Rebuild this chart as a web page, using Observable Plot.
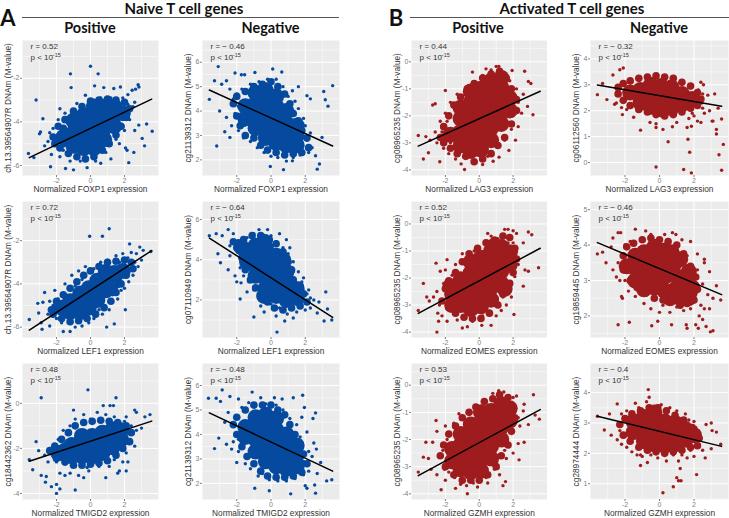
<!DOCTYPE html>
<html><head><meta charset="utf-8">
<script src="https://cdn.jsdelivr.net/npm/d3@7"></script>
<script src="https://cdn.jsdelivr.net/npm/@observablehq/plot@0.6"></script>
<style>
html,body{margin:0;padding:0;background:#fff}
#c{position:relative;width:729px;height:518px;overflow:hidden}
#c svg{position:absolute;overflow:visible;background:transparent}
.h{position:absolute;font-family:Lato,sans-serif;font-weight:700;color:#111;white-space:nowrap;transform:translate(-50%,-50%);line-height:1.2}
.r{position:absolute;height:1.5px;background:#555}
</style></head><body><div id="c"></div>
<script>
// Values are estimates. Individual points are the readable outliers and
// cloud edges; each "core" and "ring" list is a coarse hand-read stand-in for the solid, overlapping centre.
const xMajor=[-2,0,2], xMinor=[-3,-1,1,3];
const lineXs=[-3.6,3.6];

const foxp1PosCore=[-1.6,-4.7,-1,-5.1,-1,-4.5,-1,-3.95,-.4,-5.2,-.4,-4.7,-.4,-4.2,-.4,-3.7,.2,-5.2,.2,-4.7,.2,-4.2,.2,-3.7,.2,-3.3,.8,-4.8,.8,-4.3,.8,-3.8,.8,-3.3,1.4,-4.2,1.4,-3.7,1.4,-3.3,1.9,-3.6];
const foxp1PosRing=[-2.2,-4.7,-1.9,-4.2,-1.5,-3.9,-1,-3.5,-.5,-3.3,0,-3.05,.5,-3,1,-2.95,1.5,-3,2,-3.1,2.3,-3.4,2.1,-3.8,1.8,-4.2,1.5,-4.6,1.1,-5,.7,-5.3,.2,-5.6,-.3,-5.7,-.8,-5.6,-1.3,-5.45,-1.8,-5.2,-2.1,-5,-1.6,-5,-1.6,-4.3];
const foxp1PosDots=[0,-1.45,-1.18,-1.8,.45,-1.8,-1.14,-2.43,-3.2,-3,-2.8,-3.86,-2.94,-4.46,-3,-4.55,3.63,-4.43,3.3,-4.1,3.04,-4.76,3.18,-5.1,2.84,-4.15,2.6,-4.4,2.55,-5.4,2.25,-5.87,2.06,-5.2,2.15,-5.3,2.8,-2.3,2.85,-2.4,2.65,-2.5,2.45,-2.55,2.2,-2.75,1.76,-2.4,1.37,-2.47,.78,-2.43,.24,-2.35,-.3,-2.78,-.8,-3.16,-1.8,-3.4,-3.65,-5.45,-3.33,-5.64,-2.35,-6.06,-1.47,-6.14,-1,-6.2,-.2,-6.1,.6,-5.9,1.2,-5.7,-2.5,-4.9,-2.2,-4.3,-1.9,-3.9,-1.5,-3.6,-2.7,-5.1,-2.3,-5.5,-1.8,-5.6,-1.2,-5.8,1.7,-5,2,-4.4,2.3,-3.9,2.5,-3.3,2.6,-3.1,2.2,-3.2,1.9,-2.9,1.2,-2.9,.6,-2.9,-.1,-3.2,-.5,-3.3,-1.1,-3.6,-1.6,-5.3,-2.1,-4.7,1.5,-4.8,1.9,-4.2,-2,-5,-2.4,-4.5,.3,-5.8,.9,-5.4,-.6,-5.8];
const foxp1PosLine=[-5.64,-2.96];
const foxp1PosTicks=[-2,-4,-6], foxp1PosMinor=[-1,-3,-5];

const foxp1NegCore=[-1.5,3.7,-1.5,4.2,-.9,3.3,-.9,3.8,-.9,4.3,-.9,4.75,-.3,2.9,-.3,3.4,-.3,3.9,-.3,4.4,-.3,4.85,.3,2.7,.3,3.2,.3,3.7,.3,4.2,.3,4.6,.9,2.6,.9,3.05,.9,3.5,.9,4,1.5,2.6,1.5,3,1.5,3.4];
const foxp1NegRing=[-2.2,4.3,-2,3.8,-1.8,3.4,-1.5,3,-1,2.9,-.6,2.6,-.2,2.4,.3,2.3,.8,2.2,1.3,2.25,1.8,2.3,2.2,2.5,2.1,2.9,1.8,3.2,1.6,3.6,1.3,3.9,1.1,4.3,.8,4.7,.4,5,0,5.2,-.5,5.1,-1,5,-1.5,4.8,-2,4.6,-1.6,3.5,1.6,2.8];
const foxp1NegDots=[-3.08,5.82,-3.3,5.24,-3.6,4.48,-3.17,2.57,-3,4,.1,5.72,.63,5.6,-.94,5.58,-2.1,5.56,-1.73,5.49,-1.54,5.49,3.6,5.04,3.08,4.8,3.17,4.46,3.33,4.2,-.04,1.73,.73,1.6,1.25,1.96,2.7,1.62,2.83,1.83,2.6,2.17,2.98,2.92,2.3,4.5,2.1,4.63,1.6,5,1.25,4.83,-2.7,3.15,-2.4,2.92,-2.3,3.4,-2.6,3.74,-2.88,5.1,-2.6,5.24,-2.4,4.9,-2.2,4.5,-2.1,3.9,-1.9,3.2,-1.6,2.9,-1.2,2.75,-.8,2.5,-.4,2.3,0,2.15,.4,2.1,.9,1.95,1.3,2.1,1.7,2.2,2.2,2.3,2.4,2.5,2.1,2.8,2.3,3.1,2,3.4,1.9,3.7,1.6,4.1,1.4,4.4,1,4.6,.7,5,.3,5.3,-.2,5.3,-.7,5.2,-1.2,5.1,-1.7,4.9,-2,4.7,-1.9,4.2,-1.7,3.4];
const foxp1NegLine=[4.86,2.57];
const foxp1NegTicks=[2,3,4,5,6], foxp1NegMinor=[2.5,3.5,4.5,5.5,6.5];

const lag3PosCore=[-1.7,-2.7,-1.1,-3.1,-1.1,-2.6,-1.1,-2.1,-1.1,-1.7,-.5,-3.3,-.5,-2.85,-.5,-2.4,-.5,-1.95,-.5,-1.5,-.5,-1.1,.1,-3.25,.1,-2.8,.1,-2.35,.1,-1.9,.1,-1.45,.1,-1,.7,-2.9,.7,-2.45,.7,-2,.7,-1.55,.7,-1.1,.7,-.7,1.3,-2.3,1.3,-1.85,1.3,-1.4,1.3,-.95,1.3,-.6,1.8,-1.8,1.8,-1.35];
const lag3PosRing=[-2.3,-2.8,-2.1,-2.4,-1.8,-2,-1.5,-1.6,-1.1,-1.3,-.7,-1,-.3,-.8,.2,-.6,.7,-.45,1.2,-.35,1.6,-.6,1.9,-1,2.2,-1.4,2.2,-1.8,1.9,-2.3,1.5,-2.8,1.1,-3.1,.7,-3.4,.2,-3.6,-.3,-3.7,-.8,-3.5,-1.3,-3.4,-1.7,-3.2,-2.1,-3];
const lag3PosDots=[-3.6,-2.73,-3.3,-3.6,-3,-3.37,-3.15,-2.77,-2.33,-3.7,-2.6,-1.55,-2.75,-1.6,-2,-1.06,-.4,-.38,.4,-.26,1,-.17,1.16,-.17,1.94,-.32,2.68,-.35,2.9,-.73,3.05,-.8,2.6,-1.2,3.17,-1.96,2.85,-1.65,-.87,-3.99,-1.07,-3.78,-.4,-3.65,.82,-3.68,1.17,-3.53,1.75,-3.28,2.14,-2.9,2.3,-2.4,2.5,-1.9,2.3,-1.5,2.2,-1,1.8,-.7,1.5,-.4,.7,-.3,.2,-.5,-.3,-.8,-.8,-1,-1.3,-1.2,-1.7,-1.5,-2,-1.9,-2.3,-2.2,-2.6,-2.6,-2.9,-2.9,-2.5,-3,-2.1,-3.2,-1.8,-3.4,-1.4,-3.6,-1.7,-3,1.5,-2.9,1.9,-2.5,-2.2,-2.6,-1.9,-2.2,.2,-3.8,-.2,-3.7,.5,-3.5,-1.5,-1.7,2,-2,2.1,-1.3];
const lag3PosLine=[-3.12,-1.09];
const bTicks=[0,-1,-2,-3,-4], bMinor=[.5,-.5,-1.5,-2.5,-3.5];

const lag3NegCore=[-1.7,2.7,-1.1,2.3,-1.1,2.8,-.5,2.15,-.5,2.6,-.5,3,.1,2.05,.1,2.5,.1,2.95,.7,2.1,.7,2.55,.7,2.9,1.3,2.25,1.3,2.65,1.9,2.45];
const lag3NegRing=[-2.4,2.9,-2.1,3.05,-1.7,3.15,-1.2,3.25,-.7,3.3,-.2,3.35,.3,3.3,.8,3.25,1.3,3.1,1.8,2.95,2.2,2.7,2.4,2.45,2.2,2.2,1.8,2.1,1.3,1.95,.8,1.85,.3,1.8,-.2,1.85,-.7,1.95,-1.2,2.05,-1.7,2.2,-2.1,2.4,-2.4,2.65];
const lag3NegDots=[-3.6,2.62,-3.3,3.05,-3.05,2.43,-2.7,3.38,-2.3,3.58,-2.1,3.65,-2.5,2.3,-2.6,2.25,-2.2,2.12,-2.15,1.85,-1.9,2.05,-1.5,1.75,-1.1,1.25,-.55,1.55,-.2,1.5,-.2,1.35,.2,1.28,.5,.8,-.2,-.17,1.4,-.27,.75,1.38,1,1.55,1.6,1.35,1.7,1.7,2,1.8,2.2,1.6,2.4,1.55,2.6,1.9,3.3,1.28,3.6,1.68,3.2,2.65,2.8,2.6,2.5,2.65,2.55,3,2.45,2.3,2.4,3.1,2.5,2.1,3.05,1.6,3.7,.7,3.45,.3,3.6,-.3,3.6,-.7,3.6,-1,3.65,-1.5,3.5,-1.9,3.3,-2.4,3.2,-2.8,2.85,-2.9,2.6,-2.4,2.6,-2.2,2.85,-2.5,2.95,-1.6,2.1,-1.4,2,-.9,1.85,-.4,1.75,.4,1.65,.9,1.85,1.4,1.9,1.9,2.1,2.2,2.9,2,3.1,1.6,3.3,1.1,3.4,2.1,2.25,2.8,2.3];
const lag3NegLine=[2.99,2.17];
const lag3NegTicks=[0,1,2,3,4], lag3NegMinor=[.5,1.5,2.5,3.5,4.5];

const lef1PosCore=[-1.7,-5.1,-1.2,-5.3,-1.2,-4.8,-.6,-5.3,-.6,-4.9,-.6,-4.45,-.1,-5.1,-.1,-4.65,-.1,-4.2,.4,-4.75,.4,-4.3,.4,-3.85,.9,-4.3,.9,-3.85,.9,-3.45,1.4,-3.9,1.4,-3.5,1.9,-3.4];
const lef1PosRing=[-2.3,-5.2,-2,-4.8,-1.6,-4.5,-1.2,-4.2,-.8,-3.9,-.4,-3.6,0,-3.4,.5,-3.2,1,-3,1.5,-2.95,2,-2.9,2.4,-3,2.5,-3.3,2.1,-3.6,1.8,-4,1.5,-4.4,1.2,-4.8,.8,-5.1,.3,-5.4,-.2,-5.6,-.7,-5.7,-1.2,-5.75,-1.7,-5.6,-2.2,-5.4];
const lef1PosDots=[1.1,-1.45,-.05,-1.8,.7,-1.8,2.3,-2.15,2.9,-2.3,3.1,-2.45,3.55,-2.5,2.7,-2.6,2.4,-2.55,1.9,-2.6,1.5,-2.7,1,-2.9,.6,-3,.2,-3.3,-.3,-3.2,-.7,-3.4,-1.1,-3.6,-1.5,-4,-2.1,-4.3,-2.7,-4.4,-3.1,-4.9,-2.8,-4.85,-2.4,-4.8,-3.6,-5.65,-3.05,-5.35,-2.9,-5.8,-2.85,-6.1,-2.4,-5.95,-1.6,-6.2,-1.2,-6.2,-.9,-6,-.5,-5.95,-.1,-5.8,.95,-6,1.4,-5.85,.7,-5.4,1.1,-5.2,2.05,-5.2,1.6,-4.7,2,-4.2,2.25,-3.9,2.5,-3.6,2.8,-3.2,3,-2.9,2.6,-3,2.3,-3.3,1.8,-4.3,-2,-5.6,-2.5,-5.4,-1.9,-4.7,-1.5,-4.5,-1.7,-5.8,-.9,-4.1,-.5,-3.8,.2,-5.6,.5,-5.2,1.3,-4.5,1.7,-3,2.2,-2.8,-2.2,-5,-1.1,-5.75];
const lef1PosLine=[-6.14,-2.46];
const lef1PosTicks=[-2,-4,-6], lef1PosMinor=[-1,-3,-5];

const lef1NegCore=[-1.4,3.9,-1.4,4.4,-.9,3.2,-.9,3.7,-.9,4.2,-.9,4.7,-.3,2.6,-.3,3.1,-.3,3.6,-.3,4.1,-.3,4.6,.3,2.2,.3,2.7,.3,3.2,.3,3.7,.3,4.2,.9,2,.9,2.5,.9,3,.9,3.4,1.5,2.1,1.5,2.55,-1.7,4.6,.7,4,-.4,2.2,-.4,4.9];
const lef1NegRing=[-2,4.6,-1.7,4.1,-1.5,3.5,-1.2,3,-.9,2.6,-.6,2.2,-.2,1.9,.2,1.6,.7,1.5,1.2,1.6,1.7,1.7,2.1,1.9,1.9,2.3,1.7,2.7,1.3,3,1.2,3.5,1,3.9,.7,4.4,.3,4.8,-.1,5,-.6,5.2,-1.1,5.2,-1.6,5,-1.9,4.85,-2.2,4.9];
const lef1NegDots=[-3.6,5.2,-3.2,5.3,-2.85,5.2,-2.5,5.5,-2.2,5.3,-3.1,4.3,-2.95,3.85,-2.4,4.7,-2.4,4.2,-2.5,3.5,-2.1,3.2,-2,2.9,-1.75,2.85,-1.8,2.05,-1.4,2.4,-1,1.15,-.7,2.6,-.6,1.7,-.4,1.4,.3,1.2,.35,.4,.8,.95,.95,1.3,1.3,1.1,1.5,1.4,2,1.5,2.3,1.6,2.7,1.35,3.1,.95,3.3,1.55,3.55,1,3.2,2.4,2.8,1.9,2.5,2,2.2,2.5,1.9,3.1,1.6,3.4,1.3,3.9,1,4.3,.9,5,.5,5.3,.3,4.9,-.2,5.5,-.7,5.5,-1,5.3,-1.4,5.1,-1.7,4.85,-2,4.5,-1.8,3.6,-1.6,3.2,-1.3,2.9,-1,2.5,-.5,2.1,0,1.8,.5,1.6,1.8,1.9,2.3,2.1,1.8,2.9,2.1,2.3,.7,4.6,1.3,3.4,1.1,4.6,0,5.2];
const lef1NegLine=[5.08,1.13];
const lef1NegTicks=[2,4,6], lef1NegMinor=[1,3,5];

const eomesPosCore=[-1.6,-2.6,-1.1,-3,-1.1,-2.5,-1.1,-2.05,-.5,-3.15,-.5,-2.7,-.5,-2.25,-.5,-1.8,-.5,-1.4,.1,-3.05,.1,-2.6,.1,-2.15,.1,-1.7,.1,-1.25,.7,-2.8,.7,-2.35,.7,-1.9,.7,-1.45,.7,-1,1.3,-2.2,1.3,-1.75,1.3,-1.3,1.3,-.85,1.8,-1.5,1.8,-1.05,-1.6,-3,-1.7,-2.3,.9,-.8,1.5,-2.4];
const eomesPosRing=[-2.2,-2.85,-2,-2.4,-1.8,-2.1,-1.4,-1.8,-1,-1.4,-.6,-1.1,-.1,-.9,.4,-.7,.9,-.6,1.4,-.45,1.8,-.5,2.1,-.9,2.2,-1.3,2,-1.8,1.8,-2.2,1.4,-2.6,1.1,-3,.6,-3.3,.1,-3.5,-.4,-3.5,-.9,-3.45,-1.4,-3.3,-1.8,-3.1];
const eomesPosDots=[-3.6,-3.2,-3.3,-2.2,-3.1,-2.7,-2.95,-2.85,-2.7,-2.7,-2.5,-2.5,-2.55,-1.45,-2.3,-1.75,-2.35,-3,-2.45,-3.3,-2.4,-3.6,-2.5,-4,-2.2,-3.4,-1.9,-3.6,-1.9,-1.32,-2,-1.7,-1.6,-1.9,-1.4,-1.5,-1,-1.1,-.8,-1.3,-.3,-1,.5,-.35,.7,-.45,1.1,-.55,1.5,-.2,1.7,-.2,2,-.25,2.2,-.35,2.9,-.3,3.1,-.4,2.6,-.7,2.2,-1,3.5,-1.62,2.9,-1.75,2.7,-1.7,2.6,-2.3,2.05,-3.35,1.9,-2.7,1.8,-2.4,1.6,-3,1.3,-3.2,1,-3.4,.7,-3.75,.15,-3.75,-.7,-3.8,-1,-3.85,-1.3,-3.55,-.4,-3.6,2.3,-1.5,2.1,-1.95,2,-.7,1.7,-.7,-1.8,-3,-2.1,-2.2,1.4,-2.7,-1.7,-2.3,-1.3,-1.8,.2,-3.4];
const eomesPosLine=[-3.31,-.9];

const eomesNegCore=[-1.4,3.35,-1.4,3.7,-.9,3,-.9,3.4,-.9,3.8,-.3,2.8,-.3,3.2,-.3,3.6,-.3,3.95,.3,2.7,.3,3.1,.3,3.5,.3,3.85,.9,2.75,.9,3.15,.9,3.5,1.5,2.75,1.5,3.1,1.9,2.8,-1.9,3.4,-1.4,3,-.9,2.75,.6,2.5,1.2,2.5,1.7,2.5,1.7,3.25,1.2,3.6,.7,3.8,-.6,3.05,-.6,3.8,0,3.35,0,2.95,.6,3.3,1.2,2.95];
const eomesNegRing=[-2.1,3.7,-1.9,3.95,-1.5,4.05,-1,4.15,-.5,4.2,0,4.15,.5,4.1,1,4,1.4,3.75,1.8,3.4,2.1,3.1,2.2,2.75,2,2.45,1.6,2.35,1.2,2.3,.7,2.4,.2,2.45,-.3,2.5,-.8,2.65,-1.3,2.8,-1.7,3,-2.1,3.3];
const eomesNegDots=[-3.6,3.75,-3.3,3.8,-3.1,3.5,-2.8,3.95,-2.7,4.2,-2.4,4.35,-2.25,4.35,-1.4,4.45,-.8,4.4,-.5,4.3,.3,4.3,.75,4.35,.95,4.3,1.3,4.15,1.8,4.1,2.2,3.75,2.6,3.6,2.6,3.5,2.9,3.25,3.3,2.85,3.55,2.45,3.1,2.5,2.8,2.6,2.5,2.9,2.2,3.3,2.1,2.6,2.4,2.3,2.6,2.2,2.9,2.2,2.3,2,2.5,1.9,2.7,1.7,2.95,1.55,3.1,1.58,2.1,1.75,2.25,1.65,1.55,1.75,1.6,1.65,.7,1.75,-.1,1.85,-.45,1.72,-1.75,1.82,-2.4,1.75,-2.2,2.55,-2.15,2.5,-2.3,3,-2.5,3.1,-2.7,3.3,-2.4,3.5,-2,3,-1.8,2.7,-1.4,2.55,-.9,2.35,-.5,2.2,0,2.1,.6,2.1,1,2.25,1.4,2.15,1.8,2.2,-2,4,-1.7,4.1,2,3,1.6,3.7,.2,2.3];
const eomesNegLine=[4.07,2.6];
const eomesNegTicks=[2,3,4,5], eomesNegMinor=[1.5,2.5,3.5,4.5];

const tmigd2PosCore=[-1.5,-2.1,-1.1,-2.35,-1.1,-1.85,-.5,-2.35,-.5,-1.9,-.5,-1.45,.1,-2.35,.1,-1.9,.1,-1.45,.7,-2.2,.7,-1.75,.7,-1.3,1.3,-1.95,1.3,-1.5,1.3,-1.15,1.8,-1.6,1.8,-1.2,-1.9,-2.2];
const tmigd2PosRing=[-2.4,-2.1,-2.1,-1.9,-1.7,-1.6,-1.3,-1.3,-.9,-1,-.4,-.85,.1,-.8,.6,-.75,1.1,-.8,1.6,-.85,2.1,-1,2.4,-1.3,2.3,-1.7,1.9,-2,1.5,-2.3,1,-2.55,.5,-2.65,0,-2.7,-.5,-2.75,-1,-2.75,-1.5,-2.6,-2,-2.45];
const tmigd2PosDots=[-2.9,.25,-.15,.6,1.5,.25,1.15,-.1,.75,-.1,1.35,-.1,-1,-.3,-2.9,-3.2,-2.6,-3.25,-2.65,-3.5,-2.3,-3.7,-2,-3.6,-2,-4,-1.8,-3.8,-.9,-3.85,-1.8,-3.1,-1.5,-3.2,-.7,-3.2,-.4,-3.3,-1.2,-3.1,-.1,-3,.9,-3.3,1.6,-3.1,1.7,-3,2.1,-3,2.2,-2.6,1.9,-2.6,-3.2,-1.7,-3.05,-2.1,-2.7,-2.3,-3.4,-2.95,-3.6,-2.5,-2.35,-2,-1.9,-1.6,-1.6,-1.2,-1.2,-1,-.9,-.7,-.4,-.5,0,-.7,.4,-.4,.9,-.5,1.4,-.6,2,-.8,2.6,-.3,2.7,-.4,2.1,-.6,2.4,-1,2.7,-1.2,3,-1.1,3.5,-.5,3.2,-.6,2.4,-1.7,2.6,-1.9,2.1,-2.2,1.4,-2.5,.5,-2.8,-.2,-2.85,-.9,-2.8,-1.5,-2.7,-2,-2.6,-2.5,-2.6,-1.7,-2.5,1.1,-2.8];
const tmigd2PosLine=[-2.57,-.79];
const tmigd2PosTicks=[0,-2,-4], tmigd2PosMinor=[1,-1,-3];

const tmigd2NegCore=[-1.5,3.9,-1.5,4.3,-.9,3.3,-.9,3.8,-.9,4.3,-.9,4.7,-.3,2.9,-.3,3.4,-.3,3.9,-.3,4.4,-.3,4.8,.3,2.7,.3,3.2,.3,3.7,.3,4.2,.3,4.65,.9,2.6,.9,3.05,.9,3.5,.9,4,1.5,2.7,1.5,3.15,1.5,3.55];
const tmigd2NegRing=[-2.2,4.4,-2,4,-1.7,3.5,-1.4,3.1,-1,2.8,-.6,2.5,-.2,2.3,.3,2.25,.8,2.25,1.3,2.3,1.8,2.45,2.1,2.8,1.9,3.2,1.7,3.6,1.4,4,1.1,4.4,.8,4.8,.4,5,0,5.2,-.5,5.2,-1,5.2,-1.5,5,-2,4.7];
const tmigd2NegDots=[-3.65,5.48,-3.2,5.48,-2.85,5.82,-2.95,5.35,-2.4,5.55,-1.9,5.45,-1.1,5.73,-.6,5.5,.2,5.5,.65,5.45,1.3,5.5,1.85,5.6,1.95,5.1,2.6,4.88,2.45,4.65,1.8,4.7,2.1,4.1,2.5,3.65,2.65,3.4,2.4,3.1,2.9,2.85,3.55,2.15,3.25,2.1,2.7,2.4,2.6,1.6,2.55,1.93,2.1,1.8,2,1.9,1.15,1.57,-.1,1.7,-.95,1.8,-.75,2.3,-1.2,2.6,-1.5,2.8,-2,2.85,-2.3,3.4,-2.6,3.6,-3.05,3.85,-3.3,3.42,-2.7,4.5,-2.5,4.9,-2.2,4.35,-2.2,3.7,-1.9,3.3,-1.7,5.1,-1.3,5.3,-.5,2.4,-.1,2.15,.4,2.1,.9,2.1,1.4,2.2,1.9,2.35,2.2,2.5,2.2,3.3,1.7,3.9,1.5,4.4,1.1,4.65,.7,5,.3,5.2,-.3,5.25,-.9,5.2,-1.9,4.7,-2.1,4,-1.9,3.8,1.9,2.9];
const tmigd2NegLine=[4.88,2.5];
const tmigd2NegTicks=[2,3,4,5,6], tmigd2NegMinor=[2.5,3.5,4.5,5.5,6.5];

const gzmhPosCore=[-1.6,-2.8,-1.6,-2.35,-1.1,-3.1,-1.1,-2.65,-1.1,-2.2,-1.1,-1.8,-.5,-3.2,-.5,-2.75,-.5,-2.3,-.5,-1.85,-.5,-1.45,.1,-3.15,.1,-2.7,.1,-2.25,.1,-1.8,.1,-1.35,.1,-1,.7,-2.7,.7,-2.25,.7,-1.8,.7,-1.35,.7,-.95,1.3,-2,1.3,-1.55,1.3,-1.1,1.3,-.7,1.8,-1.3,1.8,-.85];
const gzmhPosRing=[-2.3,-2.6,-2.1,-2.2,-1.8,-1.8,-1.4,-1.5,-1,-1.2,-.6,-1,-.2,-.8,.3,-.6,.8,-.5,1.2,-.35,1.7,-.45,2,-.8,2.1,-1.2,1.9,-1.7,1.7,-2.2,1.3,-2.6,1,-3,.5,-3.3,0,-3.5,-.5,-3.5,-1,-3.5,-1.5,-3.3,-2,-3];
const gzmhPosDots=[-3.6,-3.2,-3.3,-2.65,-3,-2.7,-3.15,-2.1,-2.85,-3.1,-2.5,-3.3,-2.25,-3.85,-2.55,-1.3,-2.5,-1.7,-2.75,-2.1,-2,-1.5,-2.05,-3.1,-2,-3.5,-1.4,-3.8,-1.1,-3.65,-.75,-3.7,-.7,-4,-.35,-3.6,-.1,-3.75,1.4,-3.7,1.55,-3.55,1.2,-3.3,1.6,-2.7,2.35,-2.75,2.3,-2.15,2,-2.5,2.65,-2.1,2.9,-1.45,2.4,-1.5,3.55,-1.25,3.3,-1.1,2.65,-.7,2.6,-.95,3.2,-.35,2.2,-.4,2,-.45,1.45,-.25,1.15,-.2,.8,-.3,.3,-.55,-.2,-.8,-.65,-1,-1.2,-1.05,-1.5,-1.4,2.1,-1,1.9,-1.7,1.5,-2.4,.9,-3.1,.4,-3.4,-1.8,-3.2,-2.15,-2.4,-1.9,-2,2.3,-1.2,.5,-3.6,-1.45,-3.4];
const gzmhPosLine=[-3.33,-.9];

const gzmhNegCore=[-1.5,2.7,-1.5,3.05,-.9,2.4,-.9,2.8,-.9,3.2,-.3,2.3,-.3,2.7,-.3,3.1,-.3,3.35,.3,2.25,.3,2.65,.3,3.05,.9,2.3,.9,2.7,.9,3,1.5,2.45,1.5,2.8,2,2.6];
const gzmhNegRing=[-2.3,2.95,-2,3.15,-1.6,3.3,-1.1,3.4,-.6,3.5,-.1,3.5,.4,3.4,.9,3.25,1.4,3.1,1.9,2.85,2.3,2.5,2.2,2.25,1.8,2.2,1.3,2.1,.8,2.05,.3,2,-.2,2.05,-.7,2.1,-1.2,2.2,-1.7,2.4,-2.1,2.6];
const gzmhNegDots=[-3.6,3.22,-3.2,2.77,-2.9,3.3,-2.8,2.6,-2.45,2.45,-2.3,2.75,-2.45,3.63,-2.2,3.3,-1.9,3.4,-1.4,3.65,-.75,3.7,-.65,4.1,-.6,3.85,.1,3.6,.6,3.5,1,3.4,1.5,3.3,2,3.05,2.7,2.95,3,3,3.05,2.75,3.3,2.7,3.55,2.3,3,2.15,2.5,2.1,2.3,2.3,2.65,1.85,2.15,1.3,2,1.9,1.6,1.85,1.2,1.5,1.25,1.1,1.1,1.1,1,1.2,.8,.9,.2,.7,-.7,1.7,-1,1.9,-1.1,1.6,-1.3,1.95,-1.6,2.05,-1.9,2.2,-2.2,2.3,-2,2.55,-2.2,3,-2,3.2,-1.1,1.95,-.5,1.95,-.1,1.85,.4,1.75,.8,1.95,1.3,1.95,1.8,2.1,2.3,2.55,2.1,2.85,1.7,3.1,-.1,3.55,-1.2,3.5,1.1,1.75];
const gzmhNegLine=[3.22,2.23];
const gzmhNegTicks=[1,2,3,4], gzmhNegMinor=[.5,1.5,2.5,3.5,4.5];

const blue="#054a9e", red="#9e1c1e";
const pairs=a=>d3.range(0,a.length,2).map(i=>[a[i],a[i+1]]);
const cols=[[22,158],[202,339],[410.5,546],[590,728]], rows=[[40,175],[201,337],[363,499]];
const panels=[
 {c:0,r:0,gene:"FOXP1",ylab:"ch.13.39564907R DNAm (M-value)",stat:"r = 0.52",dom:[-6.46,-.27],t:foxp1PosTicks,m:foxp1PosMinor,core:foxp1PosCore,ring:foxp1PosRing,dots:foxp1PosDots,line:foxp1PosLine,col:blue},
 {c:1,r:0,gene:"FOXP1",ylab:"cg21139312 DNAm (M-value)",stat:"r = − 0.46",dom:[1.36,6.89],t:foxp1NegTicks,m:foxp1NegMinor,core:foxp1NegCore,ring:foxp1NegRing,dots:foxp1NegDots,line:foxp1NegLine,col:blue},
 {c:2,r:0,gene:"LAG3",ylab:"cg08965235 DNAm (M-value)",stat:"r = 0.44",dom:[-4.21,.79],t:bTicks,m:bMinor,core:lag3PosCore,ring:lag3PosRing,dots:lag3PosDots,line:lag3PosLine,col:red},
 {c:3,r:0,gene:"LAG3",ylab:"cg06112560 DNAm (M-value)",stat:"r = − 0.32",dom:[-.5,4.71],t:lag3NegTicks,m:lag3NegMinor,core:lag3NegCore,ring:lag3NegRing,dots:lag3NegDots,line:lag3NegLine,col:red},
 {c:0,r:1,gene:"LEF1",ylab:"ch.13.39564907R DNAm (M-value)",stat:"r = 0.72",dom:[-6.48,-.19],t:lef1PosTicks,m:lef1PosMinor,core:lef1PosCore,ring:lef1PosRing,dots:lef1PosDots,line:lef1PosLine,col:blue},
 {c:1,r:1,gene:"LEF1",ylab:"cg07110949 DNAm (M-value)",stat:"r = − 0.64",dom:[.13,6.9],t:lef1NegTicks,m:lef1NegMinor,core:lef1NegCore,ring:lef1NegRing,dots:lef1NegDots,line:lef1NegLine,col:blue},
 {c:2,r:1,gene:"EOMES",ylab:"cg08965235 DNAm (M-value)",stat:"r = 0.52",dom:[-4.2,.83],t:bTicks,m:bMinor,core:eomesPosCore,ring:eomesPosRing,dots:eomesPosDots,line:eomesPosLine,col:red},
 {c:3,r:1,gene:"EOMES",ylab:"cg19859445 DNAm (M-value)",stat:"r = − 0.46",dom:[1.39,5.23],t:eomesNegTicks,m:eomesNegMinor,core:eomesNegCore,ring:eomesNegRing,dots:eomesNegDots,line:eomesNegLine,col:red},
 {c:0,r:2,gene:"TMIGD2",ylab:"cg18442362 DNAm (M-value)",stat:"r = 0.48",dom:[-4.27,1.77],t:tmigd2PosTicks,m:tmigd2PosMinor,core:tmigd2PosCore,ring:tmigd2PosRing,dots:tmigd2PosDots,line:tmigd2PosLine,col:blue},
 {c:1,r:2,gene:"TMIGD2",ylab:"cg21139312 DNAm (M-value)",stat:"r = − 0.48",dom:[1.34,6.9],t:tmigd2NegTicks,m:tmigd2NegMinor,core:tmigd2NegCore,ring:tmigd2NegRing,dots:tmigd2NegDots,line:tmigd2NegLine,col:blue},
 {c:2,r:2,gene:"GZMH",ylab:"cg08965235 DNAm (M-value)",stat:"r = 0.53",dom:[-4.21,.8],t:bTicks,m:bMinor,core:gzmhPosCore,ring:gzmhPosRing,dots:gzmhPosDots,line:gzmhPosLine,col:red},
 {c:3,r:2,gene:"GZMH",ylab:"cg28974444 DNAm (M-value)",stat:"r = − 0.4",dom:[.48,4.96],t:gzmhNegTicks,m:gzmhNegMinor,core:gzmhNegCore,ring:gzmhNegRing,dots:gzmhNegDots,line:gzmhNegLine,col:red}
];
const root=document.getElementById("c");
const ML=20,MB=22;
for(const p of panels){
 const [l,rr]=cols[p.c],[t,b]=rows[p.r];
 const w=rr-l,h=b-t;
 const note=(txt,dx,dy,fs)=>Plot.text([txt],{frameAnchor:"top-left",textAnchor:"start",lineAnchor:"middle",dx,dy,fontSize:fs,fill:"#333"});
 const svg=Plot.plot({
  width:w+ML,height:h+MB,marginLeft:ML,marginRight:0,marginTop:0,marginBottom:MB,
  style:{fontFamily:"'Liberation Sans',Arial,sans-serif",background:"transparent",overflow:"visible"},
  x:{domain:[-4,4]},y:{domain:p.dom},
  marks:[
   Plot.frame({fill:"#ebebeb",stroke:null}),
   Plot.ruleX(xMinor,{stroke:"#fff",strokeWidth:.5}),
   Plot.ruleY(p.m,{stroke:"#fff",strokeWidth:.5}),
   Plot.ruleX(xMajor,{stroke:"#fff",strokeWidth:1}),
   Plot.ruleY(p.t,{stroke:"#fff",strokeWidth:1}),
   Plot.dot(pairs(p.core),{x:"0",y:"1",r:8,fill:p.col,stroke:null,clip:true}),
   Plot.dot(pairs(p.ring),{x:"0",y:"1",r:3.8,fill:p.col,stroke:null,clip:true}),
   Plot.dot(pairs(p.dots),{x:"0",y:"1",r:1.7,fill:p.col,stroke:null,clip:true}),
   Plot.line(lineXs.map((x,i)=>[x,p.line[i]]),{x:"0",y:"1",stroke:"#000",strokeWidth:1.5}),
   Plot.axisX(xMajor,{label:null,tickSize:2,tickPadding:1,fontSize:7,color:"#7f7f7f",tickFormat:d=>d<0?"-"+(-d):""+d}),
   Plot.axisY(p.t,{label:null,tickSize:2,tickPadding:1,fontSize:7,color:"#7f7f7f",tickFormat:d=>d<0?"-"+(-d):""+d}),
   Plot.text([`Normalized ${p.gene} expression`],{frameAnchor:"bottom",lineAnchor:"middle",dy:14,fontSize:8.3,fill:"#333"}),
   Plot.text([p.ylab],{frameAnchor:"left",rotate:-90,textAnchor:"middle",lineAnchor:"middle",dx:-14,fontSize:8.3,fill:"#333"}),
   note(p.stat,8,6,8),
   note("p < 10",8,17,8),
   note("−15",29,15,5.5)
  ]
 });
 svg.style.left=(l-ML)+"px";svg.style.top=t+"px";
 root.appendChild(svg);
}
const head=(txt,x,y,fs)=>{const d=document.createElement("div");d.className="h";d.textContent=txt;d.style.left=x+"px";d.style.top=y+"px";d.style.fontSize=fs+"px";root.appendChild(d)};
const rule=(x0,x1)=>{const d=document.createElement("div");d.className="r";d.style.left=x0+"px";d.style.width=(x1-x0)+"px";d.style.top="16.5px";root.appendChild(d)};
rule(22,339);rule(410,729);
head("A",8,18,22);head("B",396,18,22);
head("Naive T cell genes",184,8,15);head("Activated T cell genes",572,8,15);
[["Positive",90],["Negative",270.5],["Positive",478],["Negative",659]].forEach(([s,x])=>head(s,x,28,14.5));
</script></body></html>
